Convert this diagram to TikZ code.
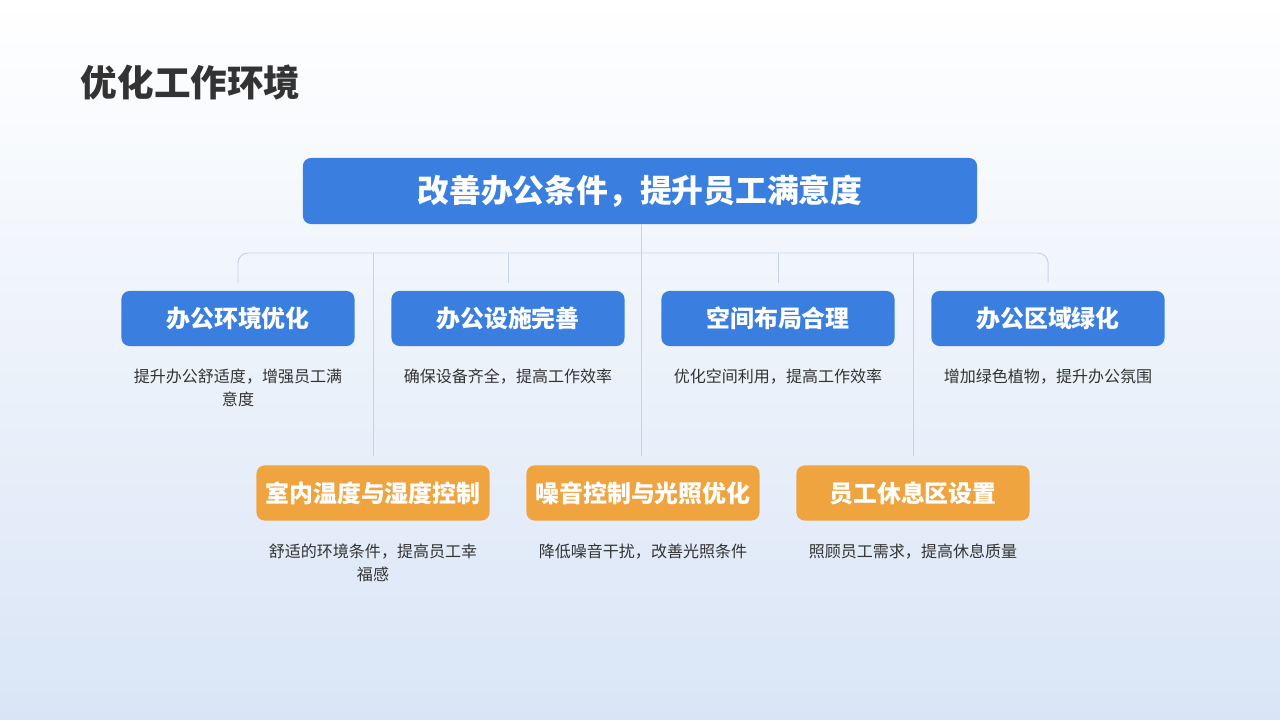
\documentclass[tikz,border=0pt]{standalone}
\usepackage{fontspec}
\setmainfont{Noto Sans CJK SC}
\usetikzlibrary{positioning}

\definecolor{boxblue}{HTML}{3A7FDF}
\definecolor{boxorange}{HTML}{F0A440}
\definecolor{linkgray}{HTML}{C5D4EA}
\definecolor{textdark}{HTML}{333333}
\definecolor{bgbottom}{HTML}{D9E5F6}

\tikzset{
  topbox/.style={fill=boxblue, rounded corners=0.2cm, minimum width=16.85cm, minimum height=1.65cm, text=white, font=\fontsize{22.6}{26}\selectfont\bfseries},
  areabox/.style={fill=boxblue, rounded corners=0.2cm, minimum width=5.825cm, minimum height=1.375cm, text=white, font=\fontsize{17}{20}\selectfont\bfseries},
  focusbox/.style={areabox, fill=boxorange},
  desc/.style={text=textdark, align=center, font=\fontsize{11.4}{16.4}\selectfont, inner sep=0pt},
  link/.style={draw=linkgray, line width=0.7pt},
}

\begin{document}
\begin{tikzpicture}[x=0.025cm, y=-0.025cm]

% Page and background
\useasboundingbox (0,0) rectangle (1280,720);
\shade[top color=white, bottom color=bgbottom] (0,0) rectangle (1280,720);

% Title
\node[anchor=west, text=textdark, font=\fontsize{26}{30}\selectfont\bfseries] (title) at (76,83) {优化工作环境};

% Main goal
\node[topbox] (top) at (640,191) {改善办公条件，提升员工满意度};

% First row
\node[areabox] (area1) at (238,318.5) {办公环境优化};
\node[areabox] (area2) at (508,318.5) {办公设施完善};
\node[areabox] (area3) at (778,318.5) {空间布局合理};
\node[areabox] (area4) at (1048,318.5) {办公区域绿化};

\node[desc, below=0.56cm of area1] (desc1) {提升办公舒适度，增强员工满\\意度};
\node[desc, below=0.56cm of area2] (desc2) {确保设备齐全，提高工作效率};
\node[desc, below=0.56cm of area3] (desc3) {优化空间利用，提高工作效率};
\node[desc, below=0.56cm of area4] (desc4) {增加绿色植物，提升办公氛围};

% Second row
\node[focusbox] (focus1) at (373,493) {室内温度与湿度控制};
\node[focusbox] (focus2) at (643,493) {噪音控制与光照优化};
\node[focusbox] (focus3) at (913,493) {员工休息区设置};

\node[desc, below=0.56cm of focus1] (desc5) {舒适的环境条件，提高员工幸\\福感};
\node[desc, below=0.56cm of focus2] (desc6) {降低噪音干扰，改善光照条件};
\node[desc, below=0.56cm of focus3] (desc7) {照顾员工需求，提高休息质量};

% Connectors
\coordinate (bus) at (641,253);
\draw[link, rounded corners=0.25cm, shorten <=0.2cm, shorten >=0.2cm] (area1.north) |- (bus) -| (area4.north);
\foreach \n in {2,3}
  \draw[link, shorten <=0.2cm] (area\n.north) -- (area\n.north |- bus);
\draw[link, shorten >=0.22cm] (bus -| focus1.north) -- (focus1.north);
\draw[link, shorten >=0.22cm] (bus -| focus3.north) -- (focus3.north);
\draw[link, shorten >=0.22cm] (top.south -| bus) -- (bus |- focus2.north);

\end{tikzpicture}
\end{document}
